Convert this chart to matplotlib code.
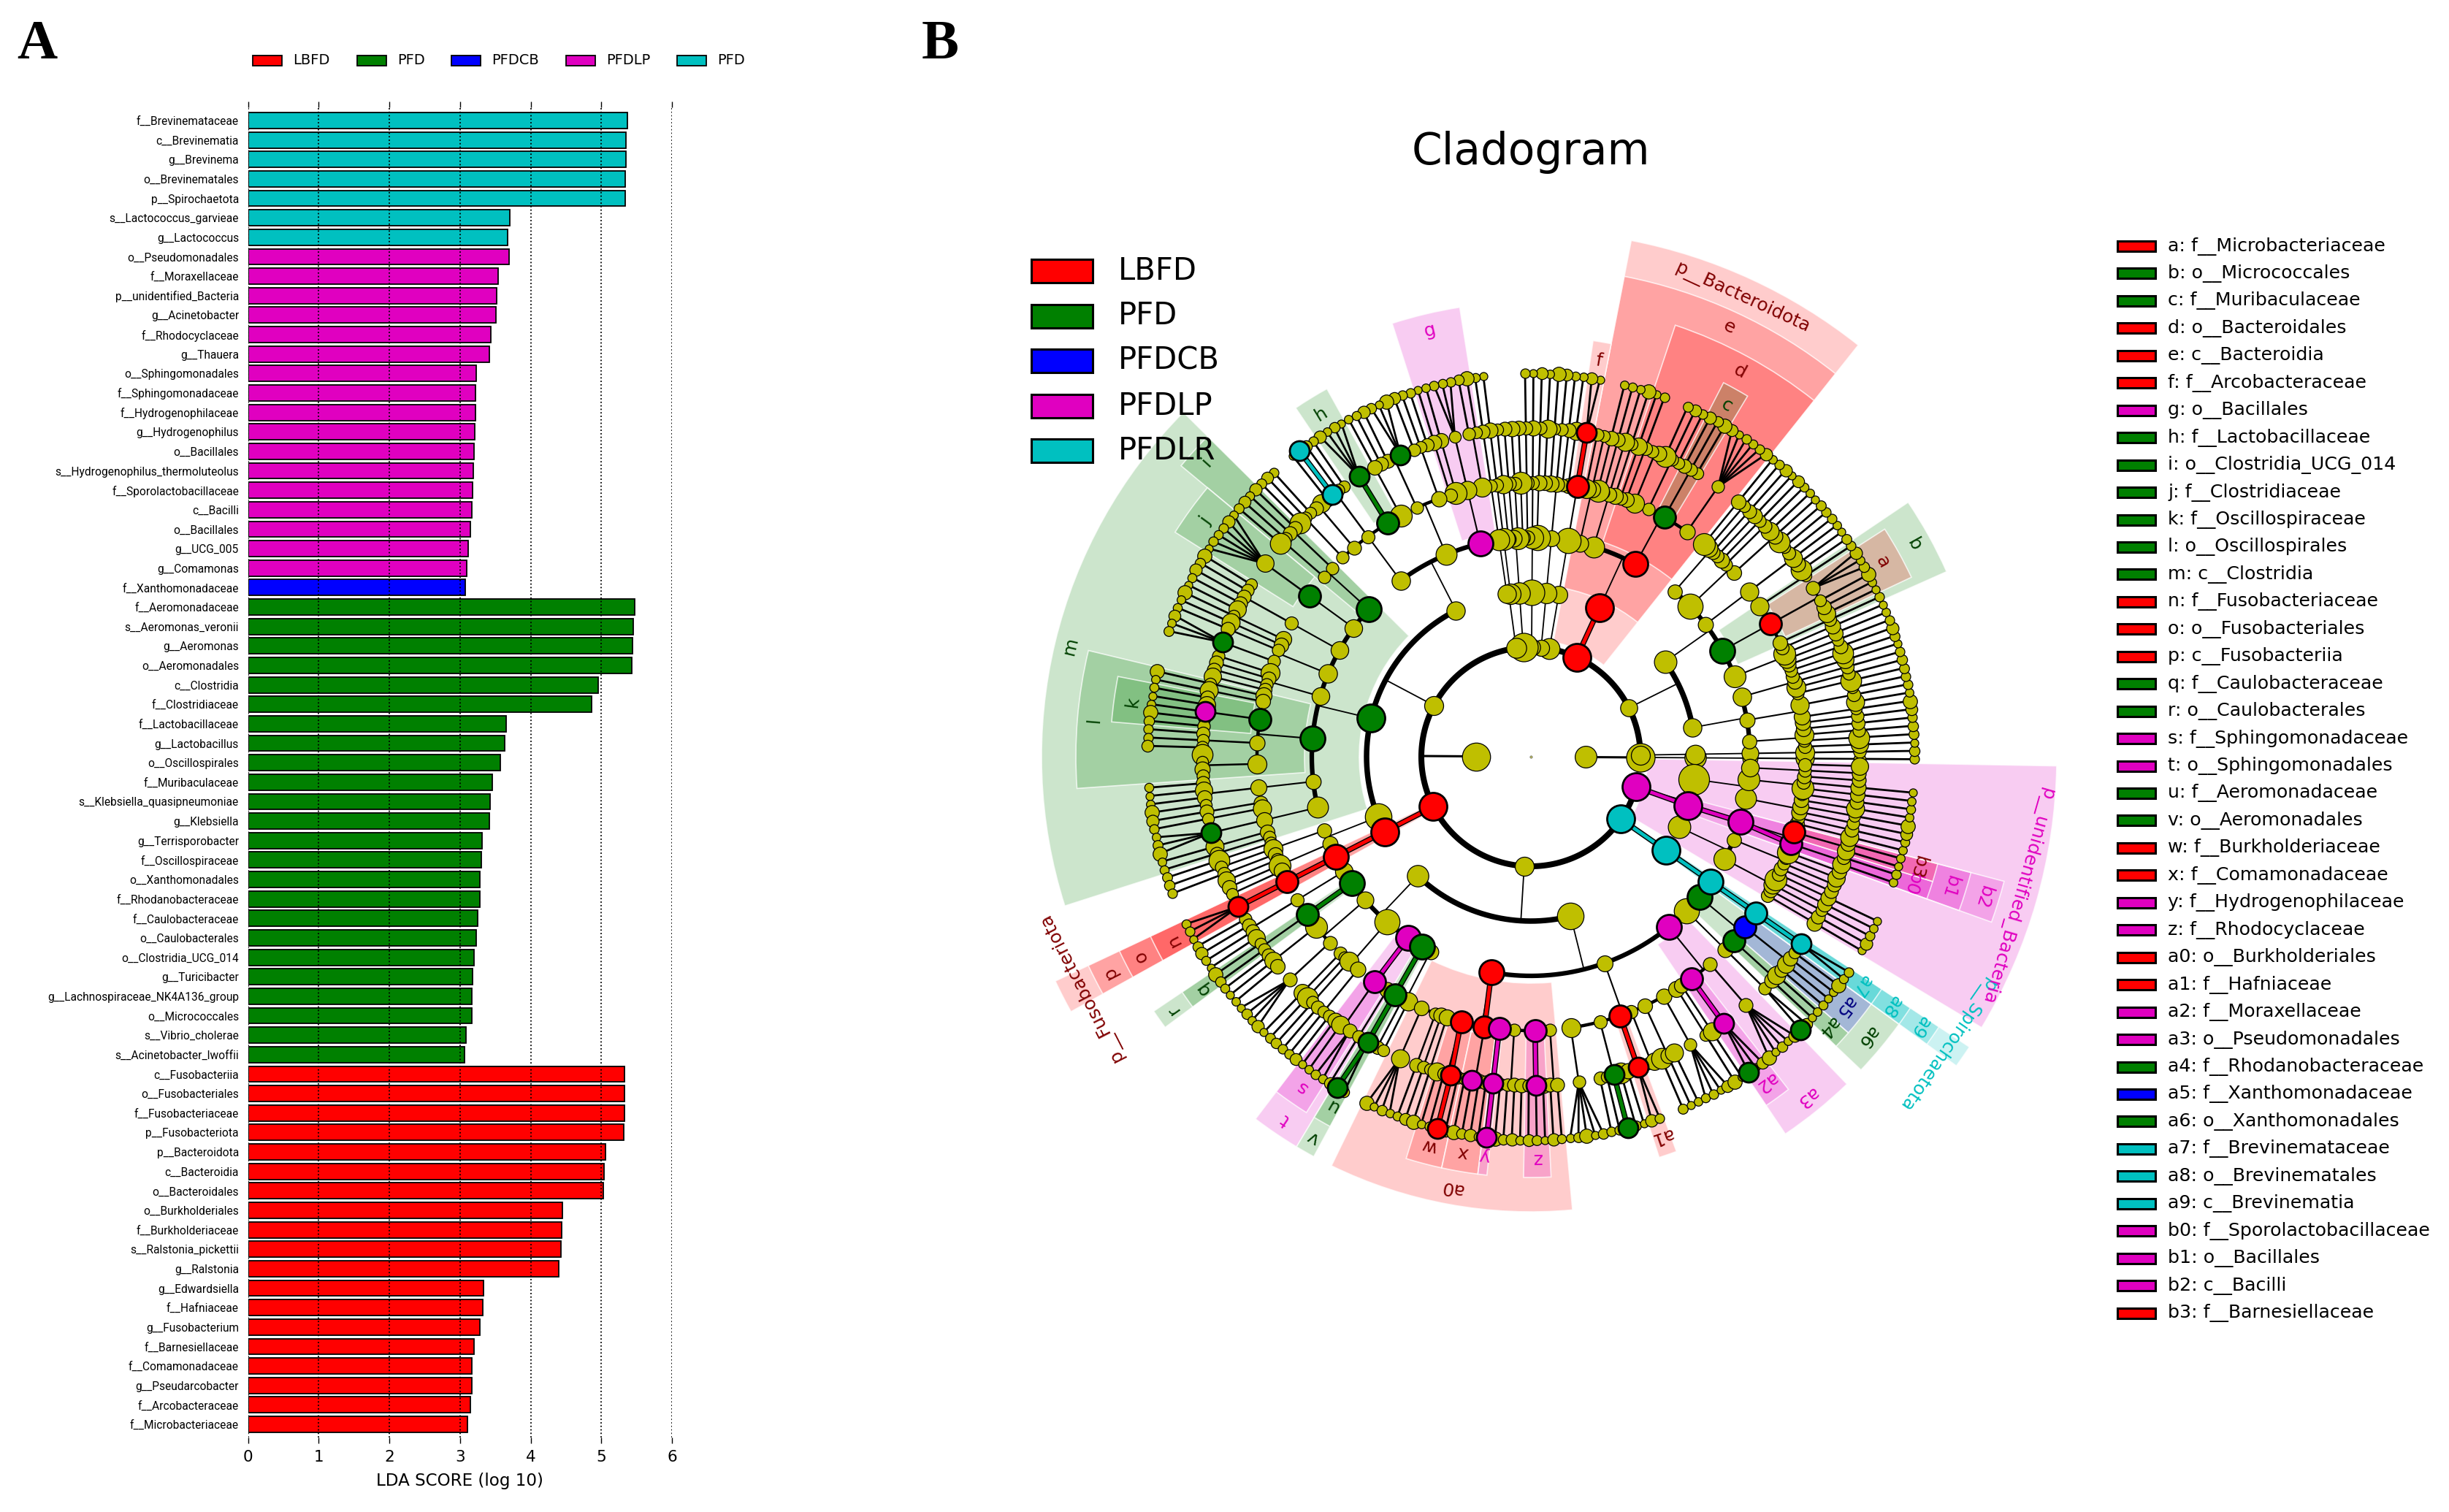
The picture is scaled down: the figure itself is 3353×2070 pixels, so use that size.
import numpy as np
import matplotlib
matplotlib.use("Agg")
import matplotlib.pyplot as plt
from matplotlib.colors import to_rgba
from matplotlib.patches import Rectangle

W, H = 3353, 2070

# ---- panel A data, top to bottom
CLASS_COLORS = {"LBFD": "#ff0000", "PFD": "#008000", "PFDCB": "#0000ff",
                "PFDLP": "#e000c0", "PFDLR": "#00c0c0"}
LABEL_COLORS = {"LBFD": "#800000", "PFD": "#004000", "PFDCB": "#000080",
                "PFDLP": "#e000c0", "PFDLR": "#00c0c0"}

lda_teal = ["f__Brevinemataceae", "c__Brevinematia", "g__Brevinema", "o__Brevinematales",
            "p__Spirochaetota", "s__Lactococcus_garvieae", "g__Lactococcus"]
lda_teal_val = [5.37, 5.35, 5.35, 5.34, 5.34, 3.71, 3.67]
lda_magenta = ["o__Pseudomonadales", "f__Moraxellaceae", "p__unidentified_Bacteria",
               "g__Acinetobacter", "f__Rhodocyclaceae", "g__Thauera", "o__Sphingomonadales",
               "f__Sphingomonadaceae", "f__Hydrogenophilaceae", "g__Hydrogenophilus",
               "o__Bacillales", "s__Hydrogenophilus_thermoluteolus", "f__Sporolactobacillaceae",
               "c__Bacilli", "o__Bacillales", "g__UCG_005", "g__Comamonas"]
lda_magenta_val = [3.69, 3.54, 3.52, 3.51, 3.44, 3.42, 3.23, 3.22, 3.22, 3.21, 3.20, 3.19,
                   3.18, 3.17, 3.15, 3.12, 3.10]
lda_blue = ["f__Xanthomonadaceae"]
lda_blue_val = [3.08]
lda_green = ["f__Aeromonadaceae", "s__Aeromonas_veronii", "g__Aeromonas", "o__Aeromonadales",
             "c__Clostridia", "f__Clostridiaceae", "f__Lactobacillaceae", "g__Lactobacillus",
             "o__Oscillospirales", "f__Muribaculaceae", "s__Klebsiella_quasipneumoniae",
             "g__Klebsiella", "g__Terrisporobacter", "f__Oscillospiraceae", "o__Xanthomonadales",
             "f__Rhodanobacteraceae", "f__Caulobacteraceae", "o__Caulobacterales",
             "o__Clostridia_UCG_014", "g__Turicibacter", "g__Lachnospiraceae_NK4A136_group",
             "o__Micrococcales", "s__Vibrio_cholerae", "s__Acinetobacter_lwoffii"]
lda_green_val = [5.47, 5.45, 5.44, 5.43, 4.96, 4.86, 3.65, 3.63, 3.57, 3.46, 3.43, 3.42,
                 3.31, 3.30, 3.28, 3.28, 3.25, 3.23, 3.20, 3.18, 3.17, 3.17, 3.09, 3.06]
lda_red = ["c__Fusobacteriia", "o__Fusobacteriales", "f__Fusobacteriaceae", "p__Fusobacteriota",
           "p__Bacteroidota", "c__Bacteroidia", "o__Bacteroidales", "o__Burkholderiales",
           "f__Burkholderiaceae", "s__Ralstonia_pickettii", "g__Ralstonia", "g__Edwardsiella",
           "f__Hafniaceae", "g__Fusobacterium", "f__Barnesiellaceae", "f__Comamonadaceae",
           "g__Pseudarcobacter", "f__Arcobacteraceae", "f__Microbacteriaceae"]
lda_red_val = [5.33, 5.33, 5.33, 5.32, 5.06, 5.04, 5.03, 4.45, 4.44, 4.43, 4.40, 3.33, 3.32,
               3.28, 3.20, 3.17, 3.17, 3.15, 3.11]
bar_legend = ["LBFD", "PFD", "PFDCB", "PFDLP", "PFD"]
bar_legend_keys = ["LBFD", "PFD", "PFDCB", "PFDLP", "PFDLR"]

# ---- panel B legend
clade_letters = ["a", "b", "c", "d", "e", "f", "g", "h", "i", "j", "k", "l", "m", "n", "o", "p",
                 "q", "r", "s", "t", "u", "v", "w", "x", "y", "z", "a0", "a1", "a2", "a3", "a4",
                 "a5", "a6", "a7", "a8", "a9", "b0", "b1", "b2", "b3"]
clade_taxa = ["f__Microbacteriaceae", "o__Micrococcales", "f__Muribaculaceae", "o__Bacteroidales",
              "c__Bacteroidia", "f__Arcobacteraceae", "o__Bacillales", "f__Lactobacillaceae",
              "o__Clostridia_UCG_014", "f__Clostridiaceae", "f__Oscillospiraceae",
              "o__Oscillospirales", "c__Clostridia", "f__Fusobacteriaceae", "o__Fusobacteriales",
              "c__Fusobacteriia", "f__Caulobacteraceae", "o__Caulobacterales",
              "f__Sphingomonadaceae", "o__Sphingomonadales", "f__Aeromonadaceae",
              "o__Aeromonadales", "f__Burkholderiaceae", "f__Comamonadaceae",
              "f__Hydrogenophilaceae", "f__Rhodocyclaceae", "o__Burkholderiales", "f__Hafniaceae",
              "f__Moraxellaceae", "o__Pseudomonadales", "f__Rhodanobacteraceae",
              "f__Xanthomonadaceae", "o__Xanthomonadales", "f__Brevinemataceae",
              "o__Brevinematales", "c__Brevinematia", "f__Sporolactobacillaceae", "o__Bacillales",
              "c__Bacilli", "f__Barnesiellaceae"]
clade_class = ["LBFD", "PFD", "PFD", "LBFD", "LBFD", "LBFD", "PFDLP", "PFD", "PFD", "PFD", "PFD",
               "PFD", "PFD", "LBFD", "LBFD", "LBFD", "PFD", "PFD", "PFDLP", "PFDLP", "PFD", "PFD",
               "LBFD", "LBFD", "PFDLP", "PFDLP", "LBFD", "LBFD", "PFDLP", "PFDLP", "PFD", "PFDCB",
               "PFD", "PFDLR", "PFDLR", "PFDLR", "PFDLP", "PFDLP", "PFDLP", "LBFD"]
phylum_names = {"P_Bact": ("p__Bacteroidota", "LBFD"), "P_Fuso": ("p__Fusobacteriota", "LBFD"),
                "P_Unid": ("p__unidentified_Bacteria", "PFDLP"),
                "P_Spiro": ("p__Spirochaetota", "PFDLR")}
path_tags = {"R": "LBFD", "G": "PFD", "M": "PFDLP", "C": "PFDLR"}

# ---- cladogram tree, counter-clockwise from east
# [tag, kid, kid...]; an int n is n plain chains out to the species ring,
# a negative one stops at the genus ring, 0 leaves one empty slot
archaea = [None, 1]
actino = [None,
          [None, [None, 4], [None, 2, [None, 3]], [None, 5]],
          [None, [None, 4], ["b", 1, ["a", 3, [None, 3]], 1],
           [None, [None, 5]], [None, [None, 3], 2], [None, 4]]]
bacteroidota = ["P_Bact",
                ["e", ["d", [None, [None, 6]], ["c", 3], [None, 3], [None, -2], 2],
                 [None, 3], [None, 1, -2]]]
campylo = [None, [None, [None, ["f", ["R", 2]]]]]
small_phyla = [[None, [None, [None, 5]]], [None, [None, 3]], [None, [None, -4]], [None, 2]]
bacilli = [None,
           ["g", [None, 2], [None, [None, 3]], 2],
           [None, [None, 3], [None, ["G", 3], 2]],
           [None, 1, ["h", ["G", 4]], [None, 2, ["C", ["C"]], 1], [None, -2], [None, 3]]]
clostridia = ["m",
              ["i", [None, 2], [None, 2]],
              [None, ["j", [None, 6]]],
              [None, [None, 5]], [None, 3, [None, ["G", 3]]], [None, -4],
              ["l", 2, ["k", 2, ["M", 1], 2], [None, 3], [None, -4]],
              [None, [None, 4]], [None, 2, [None, ["G", 3]], 2]]
firmicutes = [None, bacilli, clostridia, [None, [None, 3], [None, -3]]]
fuso = ["P_Fuso", ["p", ["o", ["n", ["R", 3]]]]]
alpha = [None,
         [None, [None, 4]], ["r", ["q", 2]], [None, [None, 3], [None, [None, 4]]],
         [None, 3, [None, 3]],
         ["t", ["s", 2, [None, 2]], 1], ["v", ["u", ["G", ["G"], 1]]], [None, -2]]
burkholderiales = ["a0", [None, [None, 4]], 3,
                   ["w", 2, ["R", ["R"]], 1], ["x", 1, ["M", 1], 2], ["y", ["M", ["M"]]],
                   [None, 4], ["z", 1, ["M", 1], 1], [None, 2]]
entero = [None, [None, [None, 5]], [None, 2, ["G", ["G"]], 2], ["a1", ["R", 2]],
          [None, -2], [None, 3], [None, [None, 4]], 2]
pseudo = ["a3", ["a2", ["M", ["G"], 2]], [None, [None, 5]]]
gamma = [None, burkholderiales, entero, pseudo,
         [None, [None, [None, ["G"], 1]]],
         ["a6", ["a4", 2], ["a5", 4]]]
proteo = [None, alpha, gamma]
spiro = ["P_Spiro", ["a9", ["a8", ["a7", ["C", 2]]]]]
unident = ["P_Unid",
           [None, [None, 5], [None, -4]],
           ["b2", ["b1", ["b0", 2], ["b3", 2]]],
           [None, [None, 6], [None, 2], [None, -3]]]
bacteria = [None, 1, actino, bacteroidota, campylo] + small_phyla + \
           [firmicutes, fuso, proteo, spiro, 0, 0, unident]
tree_root = [None, archaea, bacteria]

# marker diameters (px) per ring, and the size scatter read along the rings
ring_step = 75
plain_diam = {1: 35, 2: 26, 3: 28, 4: 23, 5: 20, 6: 19, 7: 13}
marked_diam = {1: 36, 2: 38, 3: 38, 4: 34, 5: 30, 6: 27, 7: 27}
size_pattern = [1.0, 0.85, 1.25, 0.9, 1.05, 1.5, 0.85, 1.1, 0.9, 1.3, 1.0, 0.95]
sector_outer = {2: 720, 3: 670, 4: 623, 5: 576}
label_radius = {2: 692, 3: 648, 4: 600, 5: 550}

START_DEG = -1.0
SLOT_DEG = 1.25
CENTER = (2096, 1036)
RMAX = 760

clade_lookup = dict(zip(clade_letters, clade_class))


def chain_spec(level, end):
    spec = [None]
    if level < end:
        spec.append(chain_spec(level + 1, end))
    return spec


class Walker:
    def __init__(self):
        self.cursor = 0
        self.nodes = []

    def grow(self, spec, level):
        kids = []
        for k in spec[1:]:
            if isinstance(k, int):
                if k == 0:
                    self.cursor += 1
                for _ in range(abs(k)):
                    kids.append(self.grow(chain_spec(level + 1, 7 if k > 0 else 6), level + 1))
            else:
                kids.append(self.grow(k, level + 1))
        if kids:
            lo, hi = kids[0]["lo"], kids[-1]["hi"]
        else:
            lo = hi = self.cursor
            self.cursor += 1
        node = {"tag": spec[0], "level": level, "kids": kids, "lo": lo, "hi": hi,
                "deg": START_DEG + SLOT_DEG * ((lo + hi) / 2 + 0.5), "idx": len(self.nodes)}
        self.nodes.append(node)
        return node


def tag_class(tag):
    if tag is None:
        return None
    if tag in path_tags:
        return path_tags[tag]
    if tag in phylum_names:
        return phylum_names[tag][1]
    return clade_lookup[tag]


def draw_links(ax, node):
    lev = node["level"]
    if lev == 0:
        for k in node["kids"]:
            draw_links(ax, k)
        return
    r0 = lev * ring_step
    r1 = r0 + ring_step
    th = np.radians(node["deg"])
    kids = node["kids"]
    spoke_lw = {1: 2.2, 2: 1.3, 3: 1.3, 4: 1.5, 5: 1.8, 6: 2.0}
    arc_lw = {2: 5.8, 3: 5.4, 4: 4.5, 5: 3.2, 6: 2.4}
    if kids:
        if lev < 6:
            ax.plot([th, th], [r0, r1], color="k", lw=spoke_lw[lev], zorder=3)
            if len(kids) > 1:
                arc = np.radians(np.linspace(kids[0]["deg"], kids[-1]["deg"], 200))
                ax.plot(arc, np.full(200, r1), color="k", lw=arc_lw[lev + 1], zorder=3,
                        solid_capstyle="round")
        else:
            for k in kids:
                ax.plot([th, np.radians(k["deg"])], [r0, r1], color="k", lw=spoke_lw[lev], zorder=3)
    me = tag_class(node["tag"])
    for k in kids:
        ck = tag_class(k["tag"])
        # only a same-colour child sitting straight out from its parent gets a coloured link
        if me and me == ck and abs(k["deg"] - node["deg"]) < 2.0:
            pts = ([th, np.radians(k["deg"])], [r0, r1])
            ax.plot(*pts, color="k", lw=5.5, zorder=4, solid_capstyle="butt")
            ax.plot(*pts, color=CLASS_COLORS[ck], lw=3.4, zorder=4.1, solid_capstyle="butt")
        draw_links(ax, k)


def draw_sectors(ax, nodes):
    # widest clades first so the overlaps darken the same way
    for n in sorted(nodes, key=lambda m: m["level"]):
        tag = n["tag"]
        if tag is None or tag in path_tags:
            continue
        cls = tag_class(tag)
        lo = START_DEG + SLOT_DEG * n["lo"]
        hi = START_DEG + SLOT_DEG * (n["hi"] + 1)
        lev = n["level"]
        inner = lev * ring_step + 10
        ax.bar(np.radians((lo + hi) / 2), sector_outer[lev] - inner, np.radians(hi - lo),
               bottom=inner, facecolor=to_rgba(CLASS_COLORS[cls], 0.2),
               edgecolor=to_rgba("white", 0.75), linewidth=1.2, zorder=1)
        text = phylum_names[tag][0] if tag in phylum_names else tag
        ax.text(np.radians(n["deg"]), label_radius[lev], text, color=LABEL_COLORS[cls],
                fontsize=18, rotation=n["deg"] - 90, rotation_mode="anchor",
                ha="center", va="center", zorder=7)


def draw_nodes(ax, nodes):
    for n in nodes:
        if n["level"] == 0:
            ax.scatter([0], [0], s=6, color="#b8b860", edgecolor="#555555", linewidth=0.4, zorder=5)
            continue
        cls = tag_class(n["tag"])
        th = np.radians(n["deg"])
        r = n["level"] * ring_step
        if cls:
            d = marked_diam[n["level"]] * 0.72
            ax.scatter([th], [r], s=d * d, color=CLASS_COLORS[cls], edgecolor="k",
                       linewidth=2.0, zorder=6)
        else:
            d = plain_diam[n["level"]] * size_pattern[n["idx"] % len(size_pattern)] * 0.72
            ax.scatter([th], [r], s=d * d, color="#bfbf00", edgecolor="k",
                       linewidth=0.9, zorder=5)


def main():
    fig = plt.figure(figsize=(W / 100, H / 100), dpi=100, facecolor="white")

    # ---- panel A
    names = lda_teal + lda_magenta + lda_blue + lda_green + lda_red
    vals = lda_teal_val + lda_magenta_val + lda_blue_val + lda_green_val + lda_red_val
    cols = (["PFDLR"] * len(lda_teal) + ["PFDLP"] * len(lda_magenta) + ["PFDCB"] * len(lda_blue)
            + ["PFD"] * len(lda_green) + ["LBFD"] * len(lda_red))
    top, bottom = 147, 1968
    ax = fig.add_axes([339.5 / W, 1 - bottom / H, (920 - 339.5) / W, (bottom - top) / H])
    ypos = np.arange(len(names))
    ax.barh(ypos, vals, height=0.82, color=[CLASS_COLORS[c] for c in cols],
            edgecolor="k", linewidth=1.3, zorder=1)
    ax.set_xlim(0, 6)
    ax.set_ylim(len(names) - 1 + 18 / 26.64, -18 / 26.64)
    for s in ax.spines.values():
        s.set_visible(False)
    ax.set_axisbelow(False)
    ax.grid(axis="x", color="k", linestyle=":", linewidth=1.3, zorder=3)
    ax.set_yticks(ypos)
    ax.set_yticklabels(names, fontsize=11.2, family="Roboto")
    ax.tick_params(axis="y", length=0, pad=9)
    ax.tick_params(axis="x", top=True, length=6, width=1.0, labelsize=15.5, pad=6)
    ax.set_xticks(range(7))
    ax.set_xlabel("LDA SCORE (log 10)", fontsize=16.6, labelpad=8)

    # ---- panel B
    ax2 = fig.add_axes([(CENTER[0] - RMAX) / W, 1 - (CENTER[1] + RMAX) / H, 2 * RMAX / W, 2 * RMAX / H],
                       projection="polar")
    ax2.set_rlim(0, RMAX)
    ax2.axis("off")
    walker = Walker()
    root = walker.grow(tree_root, 0)
    draw_sectors(ax2, walker.nodes)
    draw_links(ax2, root)
    draw_nodes(ax2, walker.nodes)

    # ---- everything placed by page position
    pg = fig.add_axes([0, 0, 1, 1], zorder=10)
    pg.set_xlim(0, W)
    pg.set_ylim(H, 0)
    pg.axis("off")
    pg.text(23, 80, "A", family="Liberation Serif", weight="bold", fontsize=55, va="baseline")
    pg.text(1262, 80, "B", family="Liberation Serif", weight="bold", fontsize=55, va="baseline")
    pg.text(2096, 208, "Cladogram", fontsize=43, ha="center", va="center")

    for x, lab, key in zip([346, 489, 618, 775, 927], bar_legend, bar_legend_keys):
        pg.add_patch(Rectangle((x, 76), 40, 14, facecolor=CLASS_COLORS[key], edgecolor="k", linewidth=1.3))
        pg.text(x + 55, 83, lab, fontsize=14, va="center")

    for i, key in enumerate(CLASS_COLORS):
        y = 355 + 61.5 * i
        pg.add_patch(Rectangle((1412, y), 84, 32, facecolor=CLASS_COLORS[key], edgecolor="k", linewidth=2.2))
        pg.text(1531, y + 16, key, fontsize=30, va="center")

    for i, (let, tax, cls) in enumerate(zip(clade_letters, clade_taxa, clade_class)):
        y = 337 + 37.45 * i
        pg.add_patch(Rectangle((2899, y - 7), 52, 14, facecolor=CLASS_COLORS[cls], edgecolor="k", linewidth=2.2))
        pg.text(2968, y, f"{let}: {tax}", fontsize=18.2, va="center")

    fig.savefig("out.png", dpi=100)
    print("saved out.png")


if __name__ == "__main__":
    main()
